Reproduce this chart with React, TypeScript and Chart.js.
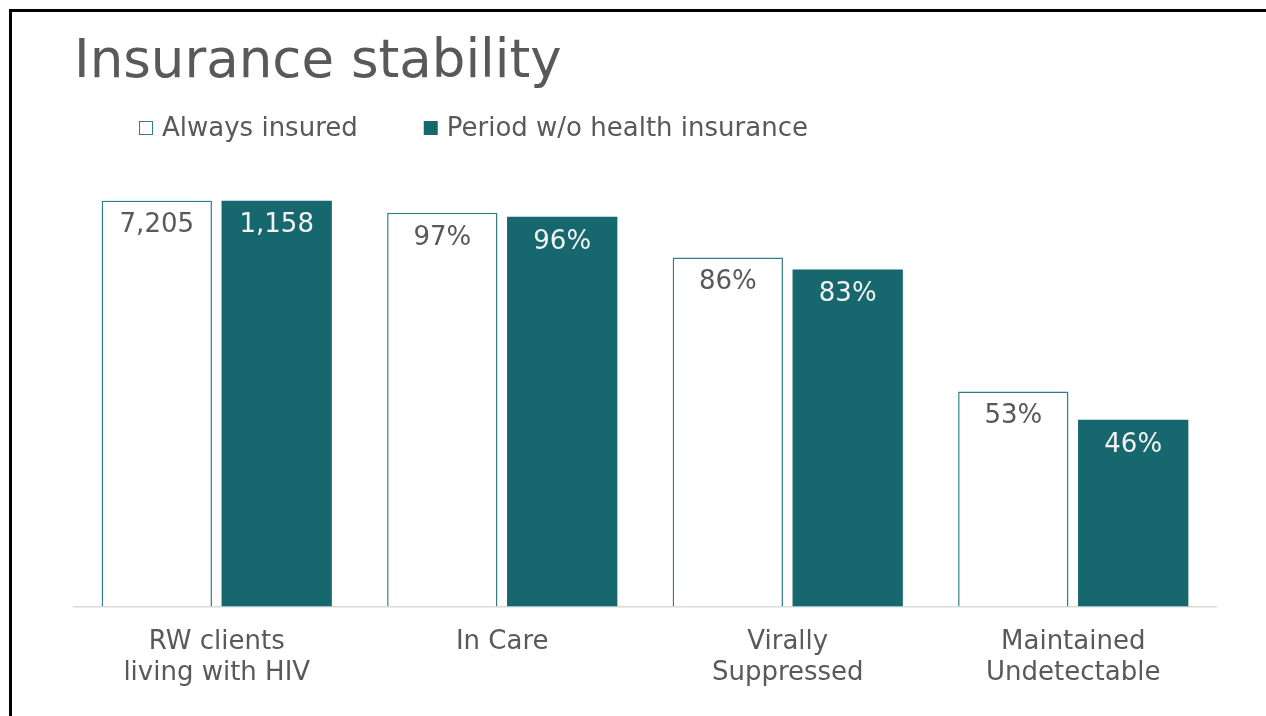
import React, { useEffect, useRef } from "react";
import { Chart, registerables } from "chart.js";

Chart.register(...registerables);

const TITLE = "Insurance stability";
const categories: string[][] = [
  ["RW clients", "living with HIV"],
  ["In Care"],
  ["Virally", "Suppressed"],
  ["Maintained", "Undetectable"],
];
const seriesNames = ["Always insured", "Period w/o health insurance"];
const alwaysInsured = [100, 97, 86, 53];
const periodWithout = [100, 96, 83, 46];
const alwaysLabels = ["7,205", "97%", "86%", "53%"];
const periodLabels = ["1,158", "96%", "83%", "46%"];

const TEAL = "#17676F";
const OUTLINE = "#2f7e86";
const TEXT = "#595959";
const FONT = "DejaVu Sans";

const valueLabelPlugin = {
  id: "valueLabels",
  afterDatasetsDraw(chart: any) {
    const ctx = chart.ctx;
    const sets = [alwaysLabels, periodLabels];
    const colors = [TEXT, "#F2F2F2"];
    ctx.save();
    ctx.font = `26px "${FONT}"`;
    ctx.textAlign = "center";
    ctx.textBaseline = "middle";
    chart.data.datasets.forEach((_: any, di: number) => {
      const meta = chart.getDatasetMeta(di);
      meta.data.forEach((el: any, i: number) => {
        ctx.fillStyle = colors[di];
        ctx.fillText(sets[di][i], el.x, el.y + 25);
      });
    });
    ctx.restore();
  },
};

const legendPlugin = {
  id: "customLegend",
  afterDraw(chart: any) {
    const ctx = chart.ctx;
    ctx.save();
    ctx.font = `26px "${FONT}"`;
    ctx.textBaseline = "middle";
    ctx.textAlign = "left";
    let x = 139;
    const cy = 128;
    chart.data.datasets.forEach((ds: any, i: number) => {
      const size = 14;
      ctx.fillStyle = i === 0 ? "#ffffff" : TEAL;
      ctx.fillRect(x, cy - size / 2, size, size);
      if (i === 0) {
        ctx.strokeStyle = OUTLINE;
        ctx.lineWidth = 1;
        ctx.strokeRect(x + 0.5, cy - size / 2 + 0.5, size - 1, size - 1);
      }
      ctx.fillStyle = TEXT;
      const tx = x + size + 9;
      ctx.fillText(ds.label, tx, cy + 1);
      x = tx + ctx.measureText(ds.label).width + 66;
    });
    ctx.restore();
  },
};

export default function App() {
  const ref = useRef<HTMLCanvasElement>(null);
  useEffect(() => {
    if (!ref.current) return;
    const chart = new Chart(ref.current, {
      type: "bar",
      data: {
        labels: categories,
        datasets: [
          {
            label: seriesNames[0],
            data: alwaysInsured,
            backgroundColor: "#ffffff",
            borderColor: OUTLINE,
            borderWidth: 1.5,
            categoryPercentage: 0.84,
            barPercentage: 0.92,
          },
          {
            label: seriesNames[1],
            data: periodWithout,
            backgroundColor: TEAL,
            borderWidth: 0,
            categoryPercentage: 0.84,
            barPercentage: 0.92,
          },
        ],
      },
      options: {
        animation: false,
        responsive: false,
        maintainAspectRatio: false,
        layout: { padding: { left: 74, right: 50, top: 0, bottom: 7 } },
        plugins: {
          legend: { display: false },
          tooltip: { enabled: false },
          title: {
            display: true,
            text: TITLE,
            align: "start",
            color: TEXT,
            font: { family: FONT, size: 53, weight: "normal" },
            padding: { top: 31, bottom: 106 },
          },
        },
        scales: {
          x: {
            grid: { display: false, drawTicks: false },
            border: { display: true, color: "#D9D9D9", width: 1.5 },
            ticks: {
              color: TEXT,
              font: { family: FONT, size: 26 },
              padding: 20,
              maxRotation: 0,
              autoSkip: false,
            },
          },
          y: {
            display: false,
            min: 0,
            max: 100,
          },
        },
      },
      plugins: [valueLabelPlugin, legendPlugin],
    });
    return () => chart.destroy();
  }, []);

  return (
    <div style={{ position: "fixed", left: 0, top: 0, width: 1266, height: 716, background: "#fff", overflow: "hidden" }}>
      <canvas ref={ref} width={1266} height={716} style={{ position: "absolute", left: 0, top: 0 }} />
      <div
        style={{
          position: "absolute",
          left: 9,
          top: 9,
          width: 1300,
          height: 800,
          borderLeft: "3px solid #000",
          borderTop: "3px solid #000",
          pointerEvents: "none",
        }}
      />
    </div>
  );
}
